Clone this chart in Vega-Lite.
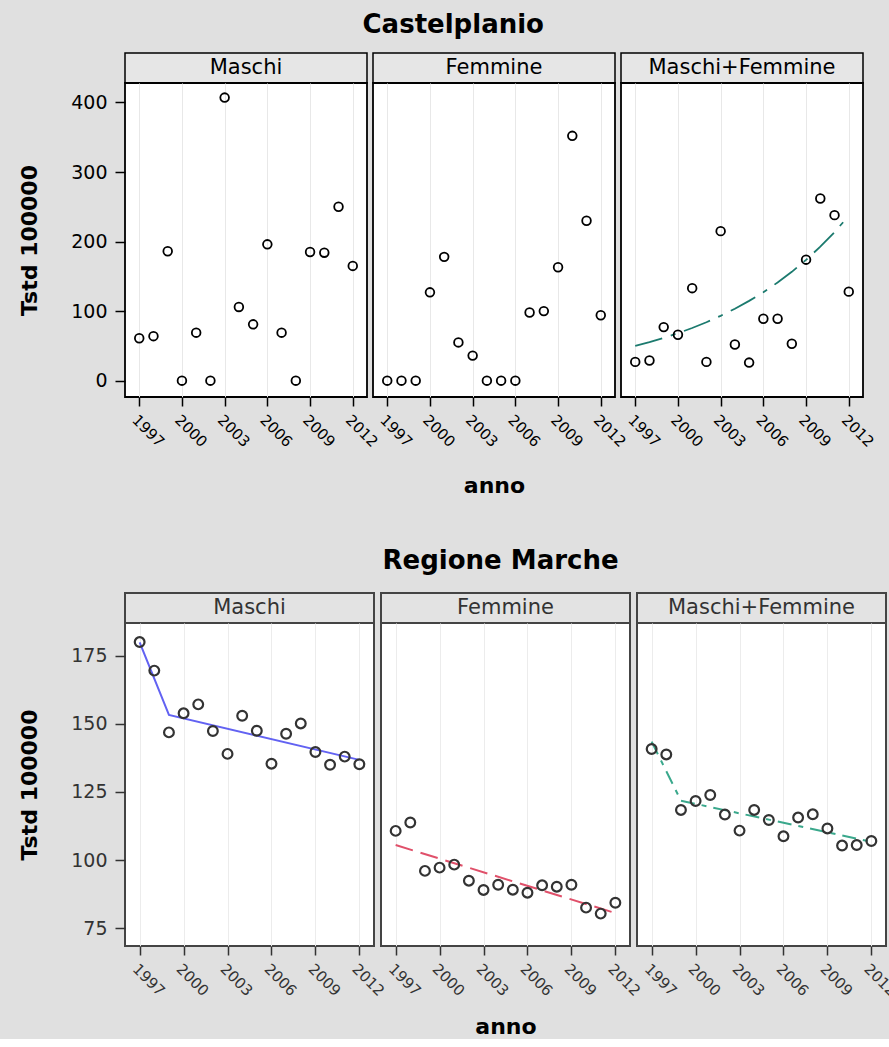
{
  "$schema": "https://vega.github.io/schema/vega-lite/v6.json",
  "background": "#e0e0e0",
  "padding": {"left": 17, "top": 12, "right": 0, "bottom": 0},
  "config": {
    "font": "DejaVu Sans",
    "view": {"stroke": "black", "strokeWidth": 1.5, "fill": "white"},
    "axis": {"labelFont": "DejaVu Sans", "titleFont": "DejaVu Sans", "labelColor": "black", "titleColor": "black", "tickColor": "black", "tickWidth": 1.5, "domain": false}
  },
  "datasets": {
    "strips": [{"sesso": "Maschi"}, {"sesso": "Femmine"}, {"sesso": "Maschi+Femmine"}],
    "castel": [
      {"anno": 1997, "sesso": "Maschi", "tstd": 61}, {"anno": 1998, "sesso": "Maschi", "tstd": 64}, {"anno": 1999, "sesso": "Maschi", "tstd": 186}, {"anno": 2000, "sesso": "Maschi", "tstd": 0}, {"anno": 2001, "sesso": "Maschi", "tstd": 69}, {"anno": 2002, "sesso": "Maschi", "tstd": 0}, {"anno": 2003, "sesso": "Maschi", "tstd": 407}, {"anno": 2004, "sesso": "Maschi", "tstd": 106}, {"anno": 2005, "sesso": "Maschi", "tstd": 81}, {"anno": 2006, "sesso": "Maschi", "tstd": 196}, {"anno": 2007, "sesso": "Maschi", "tstd": 69}, {"anno": 2008, "sesso": "Maschi", "tstd": 0}, {"anno": 2009, "sesso": "Maschi", "tstd": 185}, {"anno": 2010, "sesso": "Maschi", "tstd": 184}, {"anno": 2011, "sesso": "Maschi", "tstd": 250}, {"anno": 2012, "sesso": "Maschi", "tstd": 165},
      {"anno": 1997, "sesso": "Femmine", "tstd": 0}, {"anno": 1998, "sesso": "Femmine", "tstd": 0}, {"anno": 1999, "sesso": "Femmine", "tstd": 0}, {"anno": 2000, "sesso": "Femmine", "tstd": 127}, {"anno": 2001, "sesso": "Femmine", "tstd": 178}, {"anno": 2002, "sesso": "Femmine", "tstd": 55}, {"anno": 2003, "sesso": "Femmine", "tstd": 36}, {"anno": 2004, "sesso": "Femmine", "tstd": 0}, {"anno": 2005, "sesso": "Femmine", "tstd": 0}, {"anno": 2006, "sesso": "Femmine", "tstd": 0}, {"anno": 2007, "sesso": "Femmine", "tstd": 98}, {"anno": 2008, "sesso": "Femmine", "tstd": 100}, {"anno": 2009, "sesso": "Femmine", "tstd": 163}, {"anno": 2010, "sesso": "Femmine", "tstd": 352}, {"anno": 2011, "sesso": "Femmine", "tstd": 230}, {"anno": 2012, "sesso": "Femmine", "tstd": 94},
      {"anno": 1997, "sesso": "Maschi+Femmine", "tstd": 27}, {"anno": 1998, "sesso": "Maschi+Femmine", "tstd": 29}, {"anno": 1999, "sesso": "Maschi+Femmine", "tstd": 77}, {"anno": 2000, "sesso": "Maschi+Femmine", "tstd": 66}, {"anno": 2001, "sesso": "Maschi+Femmine", "tstd": 133}, {"anno": 2002, "sesso": "Maschi+Femmine", "tstd": 27}, {"anno": 2003, "sesso": "Maschi+Femmine", "tstd": 215}, {"anno": 2004, "sesso": "Maschi+Femmine", "tstd": 52}, {"anno": 2005, "sesso": "Maschi+Femmine", "tstd": 26}, {"anno": 2006, "sesso": "Maschi+Femmine", "tstd": 89}, {"anno": 2007, "sesso": "Maschi+Femmine", "tstd": 89}, {"anno": 2008, "sesso": "Maschi+Femmine", "tstd": 53}, {"anno": 2009, "sesso": "Maschi+Femmine", "tstd": 174}, {"anno": 2010, "sesso": "Maschi+Femmine", "tstd": 262}, {"anno": 2011, "sesso": "Maschi+Femmine", "tstd": 238}, {"anno": 2012, "sesso": "Maschi+Femmine", "tstd": 128}
    ],
    "castelFit": [
      {"anno": 1997, "sesso": "Maschi+Femmine", "tstd": 50}, {"anno": 1998, "sesso": "Maschi+Femmine", "tstd": 55.5}, {"anno": 1999, "sesso": "Maschi+Femmine", "tstd": 61.5}, {"anno": 2000, "sesso": "Maschi+Femmine", "tstd": 68.3}, {"anno": 2001, "sesso": "Maschi+Femmine", "tstd": 75.7}, {"anno": 2002, "sesso": "Maschi+Femmine", "tstd": 84.0}, {"anno": 2003, "sesso": "Maschi+Femmine", "tstd": 93.2}, {"anno": 2004, "sesso": "Maschi+Femmine", "tstd": 103.4}, {"anno": 2005, "sesso": "Maschi+Femmine", "tstd": 114.7}, {"anno": 2006, "sesso": "Maschi+Femmine", "tstd": 127.2}, {"anno": 2007, "sesso": "Maschi+Femmine", "tstd": 141.1}, {"anno": 2008, "sesso": "Maschi+Femmine", "tstd": 156.5}, {"anno": 2009, "sesso": "Maschi+Femmine", "tstd": 173.6}, {"anno": 2010, "sesso": "Maschi+Femmine", "tstd": 192.6}, {"anno": 2011, "sesso": "Maschi+Femmine", "tstd": 213.6}, {"anno": 2012, "sesso": "Maschi+Femmine", "tstd": 237}
    ],
    "marche": [
      {"anno": 1997, "sesso": "Maschi", "tstd": 180.1}, {"anno": 1998, "sesso": "Maschi", "tstd": 169.6}, {"anno": 1999, "sesso": "Maschi", "tstd": 146.9}, {"anno": 2000, "sesso": "Maschi", "tstd": 153.9}, {"anno": 2001, "sesso": "Maschi", "tstd": 157.2}, {"anno": 2002, "sesso": "Maschi", "tstd": 147.4}, {"anno": 2003, "sesso": "Maschi", "tstd": 139.0}, {"anno": 2004, "sesso": "Maschi", "tstd": 153.0}, {"anno": 2005, "sesso": "Maschi", "tstd": 147.5}, {"anno": 2006, "sesso": "Maschi", "tstd": 135.4}, {"anno": 2007, "sesso": "Maschi", "tstd": 146.4}, {"anno": 2008, "sesso": "Maschi", "tstd": 150.2}, {"anno": 2009, "sesso": "Maschi", "tstd": 139.7}, {"anno": 2010, "sesso": "Maschi", "tstd": 135.0}, {"anno": 2011, "sesso": "Maschi", "tstd": 138.0}, {"anno": 2012, "sesso": "Maschi", "tstd": 135.2},
      {"anno": 1997, "sesso": "Femmine", "tstd": 110.7}, {"anno": 1998, "sesso": "Femmine", "tstd": 113.8}, {"anno": 1999, "sesso": "Femmine", "tstd": 96.0}, {"anno": 2000, "sesso": "Femmine", "tstd": 97.2}, {"anno": 2001, "sesso": "Femmine", "tstd": 98.3}, {"anno": 2002, "sesso": "Femmine", "tstd": 92.4}, {"anno": 2003, "sesso": "Femmine", "tstd": 89.0}, {"anno": 2004, "sesso": "Femmine", "tstd": 90.9}, {"anno": 2005, "sesso": "Femmine", "tstd": 89.1}, {"anno": 2006, "sesso": "Femmine", "tstd": 88.0}, {"anno": 2007, "sesso": "Femmine", "tstd": 90.7}, {"anno": 2008, "sesso": "Femmine", "tstd": 90.2}, {"anno": 2009, "sesso": "Femmine", "tstd": 90.9}, {"anno": 2010, "sesso": "Femmine", "tstd": 82.5}, {"anno": 2011, "sesso": "Femmine", "tstd": 80.3}, {"anno": 2012, "sesso": "Femmine", "tstd": 84.3},
      {"anno": 1997, "sesso": "Maschi+Femmine", "tstd": 140.8}, {"anno": 1998, "sesso": "Maschi+Femmine", "tstd": 138.8}, {"anno": 1999, "sesso": "Maschi+Femmine", "tstd": 118.4}, {"anno": 2000, "sesso": "Maschi+Femmine", "tstd": 121.7}, {"anno": 2001, "sesso": "Maschi+Femmine", "tstd": 123.9}, {"anno": 2002, "sesso": "Maschi+Femmine", "tstd": 116.7}, {"anno": 2003, "sesso": "Maschi+Femmine", "tstd": 110.8}, {"anno": 2004, "sesso": "Maschi+Femmine", "tstd": 118.4}, {"anno": 2005, "sesso": "Maschi+Femmine", "tstd": 114.7}, {"anno": 2006, "sesso": "Maschi+Femmine", "tstd": 108.7}, {"anno": 2007, "sesso": "Maschi+Femmine", "tstd": 115.6}, {"anno": 2008, "sesso": "Maschi+Femmine", "tstd": 116.8}, {"anno": 2009, "sesso": "Maschi+Femmine", "tstd": 111.6}, {"anno": 2010, "sesso": "Maschi+Femmine", "tstd": 105.3}, {"anno": 2011, "sesso": "Maschi+Femmine", "tstd": 105.5}, {"anno": 2012, "sesso": "Maschi+Femmine", "tstd": 107.0}
    ],
    "marcheFit": [
      {"anno": 1997, "sesso": "Maschi", "tstd": 180}, {"anno": 1999, "sesso": "Maschi", "tstd": 153.3}, {"anno": 2012, "sesso": "Maschi", "tstd": 136.8},
      {"anno": 1997, "sesso": "Femmine", "tstd": 105.5}, {"anno": 2012, "sesso": "Femmine", "tstd": 80.5},
      {"anno": 1997, "sesso": "Maschi+Femmine", "tstd": 143.5}, {"anno": 1999, "sesso": "Maschi+Femmine", "tstd": 121.8}, {"anno": 2012, "sesso": "Maschi+Femmine", "tstd": 106.7}
    ]
  },
  "spacing": 50,
  "vconcat": [
    {
      "title": {"text": "Castelplanio", "font": "DejaVu Sans", "fontSize": 26, "fontWeight": "bold", "color": "black", "anchor": "middle", "frame": "bounds", "offset": 14, "dx": 6},
      "bounds": "flush",
      "spacing": 30,
      "vconcat": [
        {
          "bounds": "flush", "spacing": 6,
          "hconcat": [
            {"width": 242, "height": 30, "data": {"name": "strips"}, "transform": [{"filter": "datum.sesso === 'Maschi'"}], "mark": {"type": "text", "fontSize": 21, "font": "DejaVu Sans", "color": "black"}, "encoding": {"text": {"field": "sesso"}}, "view": {"fill": "#e6e6e6", "stroke": "black", "strokeWidth": 1.5}},
            {"width": 242, "height": 30, "data": {"name": "strips"}, "transform": [{"filter": "datum.sesso === 'Femmine'"}], "mark": {"type": "text", "fontSize": 21, "font": "DejaVu Sans", "color": "black"}, "encoding": {"text": {"field": "sesso"}}, "view": {"fill": "#e6e6e6", "stroke": "black", "strokeWidth": 1.5}},
            {"width": 242, "height": 30, "data": {"name": "strips"}, "transform": [{"filter": "datum.sesso === 'Maschi+Femmine'"}], "mark": {"type": "text", "fontSize": 21, "font": "DejaVu Sans", "color": "black"}, "encoding": {"text": {"field": "sesso"}}, "view": {"fill": "#e6e6e6", "stroke": "black", "strokeWidth": 1.5}}
          ]
        },
        {
          "bounds": "flush", "spacing": 6,
          "hconcat": [
            {
              "width": 242, "height": 314,
              "view": {"fill": "white", "stroke": "black", "strokeWidth": 1.8},
              "encoding": {
                "x": {"field": "anno", "type": "quantitative", "scale": {"domain": [1996, 2013], "nice": false, "zero": false}, "axis": {"values": [1997, 2000, 2003, 2006, 2009, 2012], "format": "d", "labelAngle": 45, "labelFontSize": 15, "tickSize": 9, "grid": true, "gridColor": "#e8e8e8", "title": null, "labelPadding": 6}},
                "y": {"field": "tstd", "type": "quantitative", "scale": {"domain": [-23.5, 428], "nice": false, "zero": false}, "axis": {"values": [0, 100, 200, 300, 400], "labelFontSize": 19, "tickSize": 10, "grid": false, "labelPadding": 8, "title": "Tstd 100000", "titleFontSize": 22, "titleFontWeight": "bold", "titlePadding": 29}}
              },
              "layer": [
                {"data": {"name": "castel"}, "transform": [{"filter": "datum.sesso === 'Maschi'"}], "mark": {"type": "point", "shape": "circle", "filled": false, "color": "black", "size": 75, "strokeWidth": 1.8, "opacity": 1}}
              ]
            },
            {
              "width": 242, "height": 314,
              "view": {"fill": "white", "stroke": "black", "strokeWidth": 1.8},
              "encoding": {
                "x": {"field": "anno", "type": "quantitative", "scale": {"domain": [1996, 2013], "nice": false, "zero": false}, "axis": {"values": [1997, 2000, 2003, 2006, 2009, 2012], "format": "d", "labelAngle": 45, "labelFontSize": 15, "tickSize": 9, "grid": true, "gridColor": "#e8e8e8", "title": "anno", "titleFontSize": 22, "titleFontWeight": "bold", "titlePadding": 26, "labelPadding": 6}},
                "y": {"field": "tstd", "type": "quantitative", "scale": {"domain": [-23.5, 428], "nice": false, "zero": false}, "axis": null}
              },
              "layer": [
                {"data": {"name": "castel"}, "transform": [{"filter": "datum.sesso === 'Femmine'"}], "mark": {"type": "point", "shape": "circle", "filled": false, "color": "black", "size": 75, "strokeWidth": 1.8, "opacity": 1}}
              ]
            },
            {
              "width": 242, "height": 314,
              "view": {"fill": "white", "stroke": "black", "strokeWidth": 1.8},
              "encoding": {
                "x": {"field": "anno", "type": "quantitative", "scale": {"domain": [1996, 2013], "nice": false, "zero": false}, "axis": {"values": [1997, 2000, 2003, 2006, 2009, 2012], "format": "d", "labelAngle": 45, "labelFontSize": 15, "tickSize": 9, "grid": true, "gridColor": "#e8e8e8", "title": null, "labelPadding": 6}},
                "y": {"field": "tstd", "type": "quantitative", "scale": {"domain": [-23.5, 428], "nice": false, "zero": false}, "axis": null}
              },
              "layer": [
                {"data": {"name": "castelFit"}, "mark": {"type": "line", "color": "#1b7a6e", "strokeWidth": 1.8, "strokeDash": [28, 9, 5, 9]}, "encoding": {}},
                {"data": {"name": "castel"}, "transform": [{"filter": "datum.sesso === 'Maschi+Femmine'"}], "mark": {"type": "point", "shape": "circle", "filled": false, "color": "black", "size": 75, "strokeWidth": 1.8, "opacity": 1}}
              ]
            }
          ]
        }
      ]
    },
    {
      "title": {"text": "Regione Marche", "font": "DejaVu Sans", "fontSize": 26, "fontWeight": "bold", "color": "black", "anchor": "middle", "frame": "bounds", "offset": 18, "dx": 42},
      "bounds": "flush",
      "spacing": 30,
      "vconcat": [
        {
          "bounds": "flush", "spacing": 7,
          "hconcat": [
            {"width": 249, "height": 30, "data": {"name": "strips"}, "transform": [{"filter": "datum.sesso === 'Maschi'"}], "mark": {"type": "text", "fontSize": 21, "font": "DejaVu Sans", "color": "#333333"}, "encoding": {"text": {"field": "sesso"}}, "view": {"fill": "#e3e3e3", "stroke": "#444444", "strokeWidth": 2}},
            {"width": 249, "height": 30, "data": {"name": "strips"}, "transform": [{"filter": "datum.sesso === 'Femmine'"}], "mark": {"type": "text", "fontSize": 21, "font": "DejaVu Sans", "color": "#333333"}, "encoding": {"text": {"field": "sesso"}}, "view": {"fill": "#e3e3e3", "stroke": "#444444", "strokeWidth": 2}},
            {"width": 249, "height": 30, "data": {"name": "strips"}, "transform": [{"filter": "datum.sesso === 'Maschi+Femmine'"}], "mark": {"type": "text", "fontSize": 21, "font": "DejaVu Sans", "color": "#333333"}, "encoding": {"text": {"field": "sesso"}}, "view": {"fill": "#e3e3e3", "stroke": "#444444", "strokeWidth": 2}}
          ]
        },
        {
          "bounds": "flush", "spacing": 7,
          "hconcat": [
            {
              "width": 249, "height": 323,
              "view": {"fill": "white", "stroke": "#444444", "strokeWidth": 2},
              "encoding": {
                "x": {"field": "anno", "type": "quantitative", "scale": {"domain": [1996, 2013], "nice": false, "zero": false}, "axis": {"values": [1997, 2000, 2003, 2006, 2009, 2012], "format": "d", "labelAngle": 45, "labelFontSize": 15, "labelColor": "#333333", "tickColor": "#333333", "tickSize": 9, "grid": true, "gridColor": "#ececec", "title": null, "labelPadding": 6}},
                "y": {"field": "tstd", "type": "quantitative", "scale": {"domain": [68.4, 187.1], "nice": false, "zero": false}, "axis": {"values": [75, 100, 125, 150, 175], "labelFontSize": 19, "labelColor": "#333333", "tickColor": "#333333", "tickSize": 10, "grid": false, "labelPadding": 8, "title": "Tstd 100000", "titleFontSize": 22, "titleFontWeight": "bold", "titlePadding": 29}}
              },
              "layer": [
                {"data": {"name": "marcheFit"}, "transform": [{"filter": "datum.sesso === 'Maschi'"}], "mark": {"type": "line", "color": "#6262f2", "strokeWidth": 2}, "encoding": {}},
                {"data": {"name": "marche"}, "transform": [{"filter": "datum.sesso === 'Maschi'"}], "mark": {"type": "point", "shape": "circle", "filled": false, "color": "#333333", "size": 95, "strokeWidth": 2.2, "opacity": 1}}
              ]
            },
            {
              "width": 249, "height": 323,
              "view": {"fill": "white", "stroke": "#444444", "strokeWidth": 2},
              "encoding": {
                "x": {"field": "anno", "type": "quantitative", "scale": {"domain": [1996, 2013], "nice": false, "zero": false}, "axis": {"values": [1997, 2000, 2003, 2006, 2009, 2012], "format": "d", "labelAngle": 45, "labelFontSize": 15, "labelColor": "#333333", "tickColor": "#333333", "tickSize": 9, "grid": true, "gridColor": "#ececec", "title": "anno", "titleFontSize": 22, "titleFontWeight": "bold", "titlePadding": 18, "labelPadding": 6}},
                "y": {"field": "tstd", "type": "quantitative", "scale": {"domain": [68.4, 187.1], "nice": false, "zero": false}, "axis": null}
              },
              "layer": [
                {"data": {"name": "marcheFit"}, "transform": [{"filter": "datum.sesso === 'Femmine'"}], "mark": {"type": "line", "color": "#e0506a", "strokeWidth": 2, "strokeDash": [18, 8]}, "encoding": {}},
                {"data": {"name": "marche"}, "transform": [{"filter": "datum.sesso === 'Femmine'"}], "mark": {"type": "point", "shape": "circle", "filled": false, "color": "#333333", "size": 95, "strokeWidth": 2.2, "opacity": 1}}
              ]
            },
            {
              "width": 249, "height": 323,
              "view": {"fill": "white", "stroke": "#444444", "strokeWidth": 2},
              "encoding": {
                "x": {"field": "anno", "type": "quantitative", "scale": {"domain": [1996, 2013], "nice": false, "zero": false}, "axis": {"values": [1997, 2000, 2003, 2006, 2009, 2012], "format": "d", "labelAngle": 45, "labelFontSize": 15, "labelColor": "#333333", "tickColor": "#333333", "tickSize": 9, "grid": true, "gridColor": "#ececec", "title": null, "labelPadding": 6}},
                "y": {"field": "tstd", "type": "quantitative", "scale": {"domain": [68.4, 187.1], "nice": false, "zero": false}, "axis": null}
              },
              "layer": [
                {"data": {"name": "marcheFit"}, "transform": [{"filter": "datum.sesso === 'Maschi+Femmine'"}], "mark": {"type": "line", "color": "#3aa88c", "strokeWidth": 2, "strokeDash": [14, 7, 5, 7]}, "encoding": {}},
                {"data": {"name": "marche"}, "transform": [{"filter": "datum.sesso === 'Maschi+Femmine'"}], "mark": {"type": "point", "shape": "circle", "filled": false, "color": "#333333", "size": 95, "strokeWidth": 2.2, "opacity": 1}}
              ]
            }
          ]
        }
      ]
    }
  ]
}
